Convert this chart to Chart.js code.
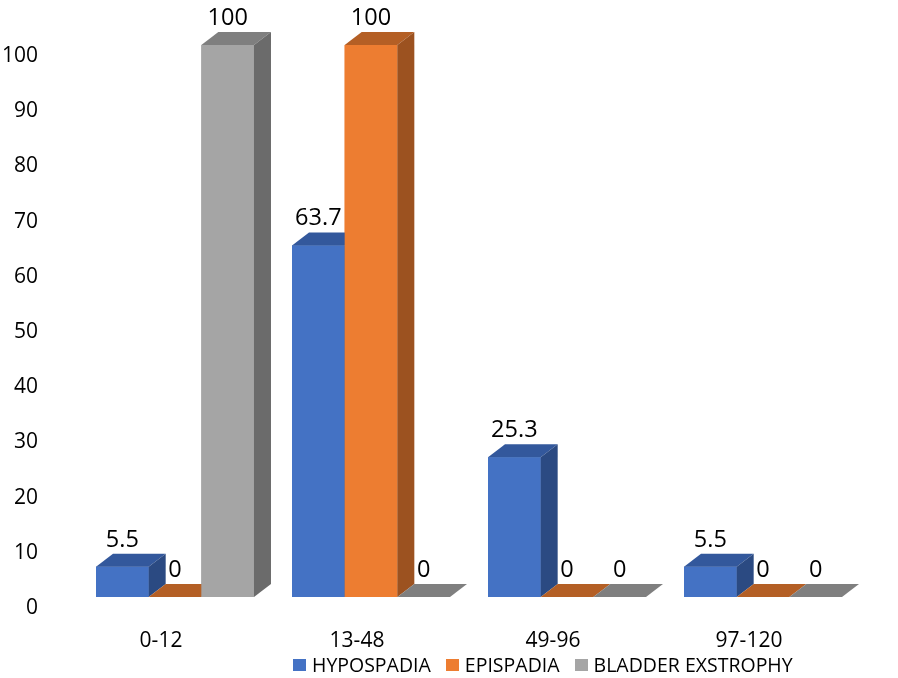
<!DOCTYPE html>
<html>
<head>
<meta charset="utf-8">
<script src="https://cdn.jsdelivr.net/npm/chart.js@4/dist/chart.umd.min.js"></script>
<style>
  html, body { margin: 0; padding: 0; background: #ffffff; }
  #wrap { position: relative; width: 898px; height: 678px; }
  #legend { position: absolute; left: 293px; top: 651px; display: flex; align-items: center;
            font-family: "Open Sans", sans-serif; font-size: 19.5px; color: #000; white-space: nowrap; }
  .item { display: flex; align-items: center; margin-right: 15px; }
  .sw { width: 13px; height: 12px; margin-right: 6px; }
</style>
</head>
<body>
<div id="wrap">
  <canvas id="c" width="898" height="678"></canvas>
  <div id="legend"></div>
</div>
<script>
const categories = ["0-12", "13-48", "49-96", "97-120"];
const seriesNames = ["HYPOSPADIA", "EPISPADIA", "BLADDER EXSTROPHY"];
const hypospadia = [5.5, 63.7, 25.3, 5.5];
const epispadia = [0, 100, 0, 0];
const bladderExstrophy = [100, 0, 0, 0];
const frontColors = ["#4472C4", "#ED7D31", "#A5A5A5"];
const topColors = ["#33589C", "#B45F25", "#7F7F7F"];
const sideColors = ["#2B4A82", "#9C5220", "#6B6B6B"];

const DX = 17, DY = 13;
const FONT = '"Open Sans", sans-serif';

const bars3d = {
  id: 'bars3d',
  afterDatasetsDraw(chart) {
    const ctx = chart.ctx;
    const n = chart.data.labels.length;
    const labels = [];
    ctx.save();
    for (let i = 0; i < n; i++) {
      chart.data.datasets.forEach((ds, d) => {
        const el = chart.getDatasetMeta(d).data[i];
        const p = el.getProps(['x', 'y', 'base', 'width'], true);
        const l = p.x - p.width / 2, r = p.x + p.width / 2;
        const top = Math.min(p.y, p.base), bot = Math.max(p.y, p.base);
        ctx.fillStyle = frontColors[d];
        ctx.fillRect(l, top, r - l, bot - top);
        ctx.fillStyle = topColors[d];
        ctx.beginPath();
        ctx.moveTo(l, top); ctx.lineTo(r, top); ctx.lineTo(r + DX, top - DY); ctx.lineTo(l + DX, top - DY);
        ctx.closePath(); ctx.fill();
        if (bot - top > 0.5) {
          ctx.fillStyle = sideColors[d];
          ctx.beginPath();
          ctx.moveTo(r, top); ctx.lineTo(r + DX, top - DY); ctx.lineTo(r + DX, bot - DY); ctx.lineTo(r, bot);
          ctx.closePath(); ctx.fill();
        }
        labels.push({ x: p.x, y: top - DY - 7, text: String(ds.data[i]) });
      });
    }
    ctx.fillStyle = '#000';
    ctx.font = '23.5px ' + FONT;
    ctx.textAlign = 'center';
    ctx.textBaseline = 'alphabetic';
    labels.forEach(lb => ctx.fillText(lb.text, lb.x, lb.y));
    ctx.restore();
  }
};

const chart = new Chart(document.getElementById('c'), {
  type: 'bar',
  data: {
    labels: categories,
    datasets: [
      { label: seriesNames[0], data: hypospadia, backgroundColor: frontColors[0] },
      { label: seriesNames[1], data: epispadia, backgroundColor: frontColors[1] },
      { label: seriesNames[2], data: bladderExstrophy, backgroundColor: frontColors[2] }
    ]
  },
  options: {
    responsive: false,
    animation: false,
    layout: { padding: { top: 45, right: 37, left: 0, bottom: 0 } },
    categoryPercentage: 0.806,
    barPercentage: 1.0,
    plugins: { legend: { display: false }, tooltip: { enabled: false } },
    scales: {
      x: {
        grid: { display: false, drawTicks: false },
        border: { display: false },
        ticks: { color: '#000', font: { family: FONT, size: 21 }, labelOffset: -14, padding: 31, maxRotation: 0 },
        afterFit(s) { s.height = 81; }
      },
      y: {
        min: 0, max: 100,
        grid: { display: false, drawTicks: false },
        border: { display: false },
        ticks: { stepSize: 10, color: '#000', font: { family: FONT, size: 21 }, padding: 39, labelOffset: 11 },
        afterFit(s) { s.width = 77; s.paddingTop = 0; s.paddingBottom = 0; }
      }
    }
  },
  plugins: [bars3d]
});

const leg = document.getElementById('legend');
seriesNames.forEach((name, i) => {
  const it = document.createElement('div'); it.className = 'item';
  const sw = document.createElement('div'); sw.className = 'sw'; sw.style.background = frontColors[i];
  const tx = document.createElement('span'); tx.textContent = name;
  it.appendChild(sw); it.appendChild(tx); leg.appendChild(it);
});
</script>
</body>
</html>
